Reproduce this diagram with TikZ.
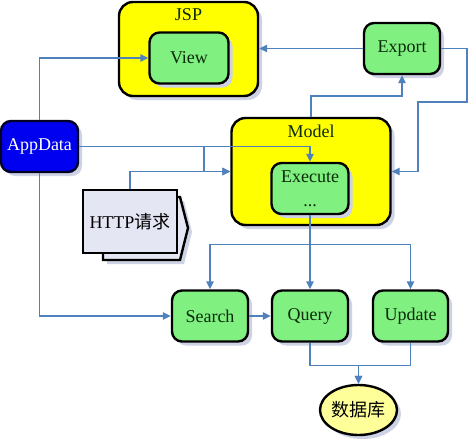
\documentclass[tikz,border=0pt]{standalone}
\usepackage{fontspec}
\setmainfont{Liberation Serif}
\newfontfamily\cjk{Noto Sans CJK SC}
\usetikzlibrary{shadows,arrows.meta,calc,shapes.geometric}
\definecolor{conncol}{HTML}{4F81BD}
\definecolor{boxgreen}{HTML}{80F080}
\definecolor{contyellow}{HTML}{FFFF00}
\definecolor{dbyellow}{HTML}{FFFF99}
\definecolor{httpfill}{HTML}{E4E6F4}
\definecolor{shadowcol}{HTML}{CDD2E4}
\definecolor{textdark}{HTML}{0A2A0A}
\definecolor{appblue}{HTML}{0000F0}
\tikzset{
  shad/.style={drop shadow={shadow xshift=4pt, shadow yshift=-4pt, fill=shadowcol, opacity=1}},
  container/.style={draw=black, line width=2.4pt, rounded corners=14pt, fill=contyellow, shad},
  gbox/.style={draw=black, line width=2.4pt, rounded corners=10pt, fill=boxgreen,
    minimum width=77pt, minimum height=51pt, inner sep=0pt,
    font=\fontsize{18}{26}\selectfont, text=textdark, align=center, shad},
  lbl/.style={font=\fontsize{18}{22}\selectfont, text=textdark, inner sep=0pt},
  conn/.style={draw=conncol, line width=1.4pt, -{Triangle[length=8pt,width=7.5pt]}},
  line/.style={draw=conncol, line width=1.4pt},
}
\begin{document}
\begin{tikzpicture}[x=1pt,y=-1pt]
\useasboundingbox (0,0) rectangle (470,444);
% containers
\node[container, minimum width=139pt, minimum height=94pt] (jsp) at (188.5,49) {};
\node[lbl] (jsplbl) at (188.5,15) {JSP};
\node[container, minimum width=159pt, minimum height=107pt] (model) at (311,171.5) {};
\node[lbl] (modellbl) at (311,131) {Model};
% boxes
\node[gbox, minimum width=79pt] (view) at (189,58) {View};
\node[gbox, minimum width=76pt] (export) at (402,48.5) {Export};
\node[gbox] (exec) at (310,188.5) {Execute\\[-2pt]...};
\node[gbox, draw=black!85!blue, fill=appblue, text=white] (app) at (39.5,146.5) {AppData};
\node[gbox, minimum width=76pt] (search) at (210,316) {Search};
\node[gbox, minimum width=76pt] (query) at (310,316) {Query};
\node[gbox, minimum width=75pt] (update) at (410.5,316) {Update};
\node[ellipse, draw=black, line width=2.4pt, fill=dbyellow, minimum width=77pt, minimum height=50pt,
  inner sep=0pt, shad] (db) at (358.5,410) {\fontsize{18}{22}\selectfont\cjk 数据库};
% HTTP request (multiple documents)
\path[draw=black, line width=2.4pt, fill=httpfill, shad, line join=miter]
  (103,197) -- (180,197) -- (188,228) -- (180,260) -- (103,260) -- cycle;
\node[draw=black, line width=2.4pt, fill=httpfill, minimum width=94pt, minimum height=63pt,
  inner sep=0pt, font=\fontsize{18}{22}\selectfont] (http) at (130,221.5) {HTTP{\cjk 请求}};
% connectors
\draw[conn] (app.north) |- (view.west);
\draw[conn] (export.west) -- (jsp.east |- export.west);
\draw[conn] (export.east) -- (467,48.5) -- (467,102) -- (418,102) -- (418,171.5) -- (model.east);
\draw[conn] (model.north) -- ++(0,-21) -| (export.south);
\draw[conn] (app.east) -| (exec.north);
\draw[conn] (app.east) -- (204,146.5) |- (model.west);
\draw[conn] (http.north) |- (model.west);
\draw[conn] (app.south) |- (search.west);
\draw[conn] (search.east) -- (query.west);
\draw[conn] (exec.south) -- (query.north);
\draw[conn] (exec.south) -- ++(0,29) -| (search.north);
\draw[conn] (exec.south) -- ++(0,29) -| (update.north);
\draw[conn] (query.south) -- ++(0,23) -| (db.north);
\draw[conn] (update.south) -- ++(0,23) -| (db.north);
\end{tikzpicture}
\end{document}
